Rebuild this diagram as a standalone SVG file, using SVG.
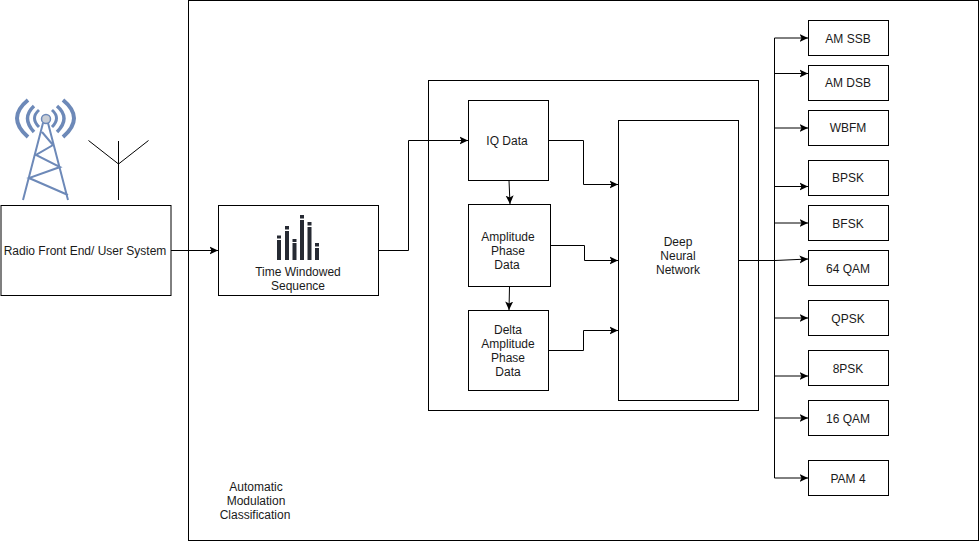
<svg xmlns="http://www.w3.org/2000/svg" width="979" height="542" viewBox="0 0 979 542">
<defs>
<marker id="arrow" markerUnits="userSpaceOnUse" markerWidth="10" markerHeight="10" refX="8.500" refY="4.500" orient="auto"><path d="M0 0.500L8.500 4.500L0 8.500L2 4.500Z" fill="#000"/></marker>
</defs>
<style>
.box{fill:#fff;stroke:#000;stroke-width:1}
.con{fill:none;stroke:#000;stroke-width:1;marker-end:url(#arrow)}
.line{fill:none;stroke:#000;stroke-width:1}
text{font-family:"Liberation Sans",Arial,sans-serif;font-size:12px;fill:#1a1a1a;text-anchor:middle}
.tw{fill:none;stroke:#6d89b8}
.bar{fill:#262a33}
</style>
<rect width="979" height="542" fill="#fff"/>
<g id="amc"><rect class="box" x="188.500" y="0.500" width="790" height="540"/>
<text x="256" y="491">Automatic</text><text x="256" y="505">Modulation</text><text x="255" y="519">Classification</text></g>
<g id="inner"><rect class="box" x="428.500" y="80.500" width="330" height="330"/></g>
<g id="tower">
<path class="tw" stroke-width="2" d="M43 123L23 200M48 123L68 200M42 132L53 145L36 155L60 167L29 178L68 195"/>
<path class="tw" stroke-width="3" d="M39 110Q30 118 39 127M52 110Q61 118 52 127"/>
<path class="tw" stroke-width="3.500" d="M34 106Q21 118 34 132M57 106Q71 118 57 132"/>
<path class="tw" stroke-width="4" d="M28 100Q6 118 28 137M63 100Q85 118 63 137"/>
<ellipse cx="46" cy="119" rx="4.500" ry="4.500" fill="#c9ced6" stroke="#6d89b8" stroke-width="1.500"/>
</g>
<g id="antenna"><path class="line" d="M118.500 141V200M88.500 140.500L118.500 164L148.500 140.500"/></g>
<g id="front-end"><rect class="box" x="1" y="205.500" width="170" height="90"/><text x="85" y="255">Radio Front End/ User System</text></g>
<g id="sequence"><rect class="box" x="218.500" y="205.500" width="160" height="90"/>
<rect class="bar" x="277" y="240" width="4" height="20"/><rect class="bar" x="277" y="235.500" width="4" height="3"/>
<rect class="bar" x="285" y="231" width="4" height="29"/><rect class="bar" x="285" y="226" width="4" height="3.500"/>
<rect class="bar" x="292.500" y="243" width="4" height="17"/><rect class="bar" x="292.500" y="239" width="4" height="3"/>
<rect class="bar" x="300" y="220" width="4" height="40"/><rect class="bar" x="300" y="215" width="4" height="3.500"/>
<rect class="bar" x="307.500" y="227" width="4" height="33"/><rect class="bar" x="307.500" y="222" width="4" height="3.500"/>
<rect class="bar" x="315" y="248" width="4" height="12"/><rect class="bar" x="315" y="243" width="4" height="3.500"/>
<text x="298" y="276">Time Windowed</text><text x="298" y="290">Sequence</text></g>
<g id="iq"><rect class="box" x="468.500" y="100.500" width="80" height="80"/><text x="507" y="145">IQ Data</text></g>
<g id="amp"><rect class="box" x="468.500" y="204.500" width="82" height="82"/><text x="508" y="241">Amplitude</text><text x="508" y="255">Phase</text><text x="507" y="269">Data</text></g>
<g id="delta"><rect class="box" x="468.500" y="310.500" width="80" height="80"/><text x="508" y="334">Delta</text><text x="508" y="348">Amplitude</text><text x="508" y="362">Phase</text><text x="508" y="376">Data</text></g>
<g id="dnn"><rect class="box" x="618.500" y="120.500" width="120" height="280"/><text x="678" y="246">Deep</text><text x="678" y="260">Neural</text><text x="678" y="274">Network</text></g>
<g id="c1"><rect class="box" x="808.500" y="20.500" width="80" height="35"/><text x="848" y="43">AM SSB</text></g>
<g id="c2"><rect class="box" x="808.500" y="65.500" width="80" height="35"/><text x="848" y="87">AM DSB</text></g>
<g id="c3"><rect class="box" x="808.500" y="110.500" width="80" height="35"/><text x="848" y="132">WBFM</text></g>
<g id="c4"><rect class="box" x="808.500" y="160.500" width="80" height="35"/><text x="848" y="182">BPSK</text></g>
<g id="c5"><rect class="box" x="808.500" y="205.500" width="80" height="35"/><text x="848" y="228">BFSK</text></g>
<g id="c6"><rect class="box" x="808.500" y="250.500" width="80" height="35"/><text x="848" y="273">64 QAM</text></g>
<g id="c7"><rect class="box" x="808.500" y="300.500" width="80" height="35"/><text x="848" y="323">QPSK</text></g>
<g id="c8"><rect class="box" x="808.500" y="350.500" width="80" height="35"/><text x="848" y="373">8PSK</text></g>
<g id="c9"><rect class="box" x="808.500" y="400.500" width="80" height="35"/><text x="848" y="423">16 QAM</text></g>
<g id="c10"><rect class="box" x="808.500" y="460.500" width="80" height="35"/><text x="848" y="483">PAM 4</text></g>
<g id="connectors">
<path class="con" d="M171 250.500H218"/>
<path class="con" d="M378.500 250.500H408.500V140.500H468"/>
<path class="con" d="M509 180.500L510 204"/>
<path class="con" d="M509.500 286.500L509 310"/>
<path class="con" d="M548.500 140.500H583.500V184.500H618"/>
<path class="con" d="M551 245.500H584.500V260.500H618"/>
<path class="con" d="M548.500 350.500H583.500V330.500H618"/>
<path class="line" d="M774.500 38V478"/>
<path class="con" d="M774.500 38H808"/>
<path class="con" d="M774.500 73.500H808"/>
<path class="con" d="M774.500 128H808"/>
<path class="con" d="M774.500 186.500H808"/>
<path class="con" d="M774.500 223H808"/>
<path class="con" d="M739 260.500H775L808 259"/>
<path class="con" d="M774.500 318H808"/>
<path class="con" d="M774.500 376H808"/>
<path class="con" d="M774.500 418H808"/>
<path class="con" d="M774.500 478H808"/>
</g>
</svg>
